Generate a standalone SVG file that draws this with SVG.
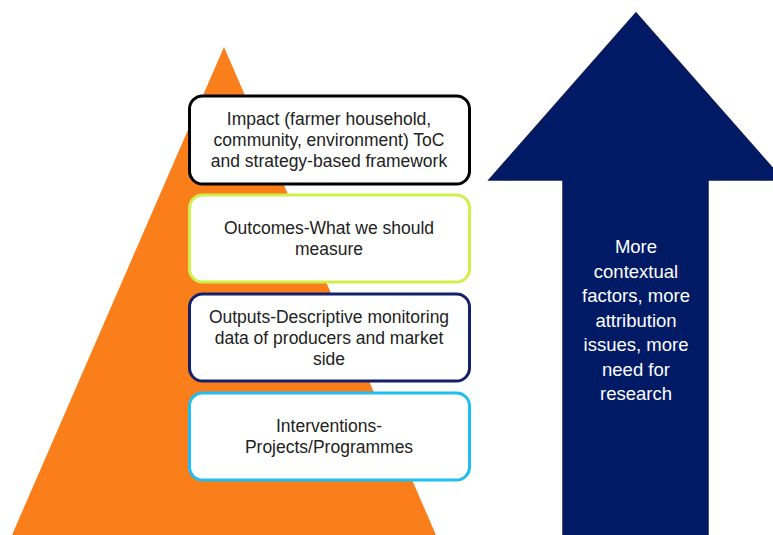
<svg xmlns="http://www.w3.org/2000/svg" width="773" height="535" viewBox="0 0 773 535">
<style>
.box{fill:#fff;stroke-width:3}
.t{font-family:"Liberation Sans",Arial,sans-serif;font-size:17.5px;fill:#222;text-anchor:middle}
.w{font-family:"Liberation Sans",Arial,sans-serif;font-size:18.5px;fill:#fff;text-anchor:middle}
</style>
<rect width="773" height="535" fill="#fff"/>
<g id="pyramid"><polygon points="224,47 12,535 436,535" fill="#FA7F1A"/></g>
<g id="arrow">
<polygon points="636,13 783,180 708,180 708,536 563,536 563,180 489,180" fill="#001A66" stroke="#0d1a55" stroke-width="1.5"/>
<text class="w"><tspan x="636" y="253">More</tspan><tspan x="636" y="277.5">contextual</tspan><tspan x="636" y="302">factors, more</tspan><tspan x="636" y="326.5">attribution</tspan><tspan x="636" y="351">issues, more</tspan><tspan x="636" y="375.5">need for</tspan><tspan x="636" y="400">research</tspan></text>
</g>
<g id="impact">
<rect class="box" x="189.5" y="96" width="280" height="88" rx="13" stroke="#000"/>
<text class="t"><tspan x="329" y="125">Impact (farmer household,</tspan><tspan x="329" y="146">community, environment) ToC</tspan><tspan x="329" y="167">and strategy-based framework</tspan></text>
</g>
<g id="outcomes">
<rect class="box" x="189.5" y="195" width="280" height="87" rx="13" stroke="#CFF04A"/>
<text class="t"><tspan x="329" y="234">Outcomes-What we should</tspan><tspan x="329" y="255">measure</tspan></text>
</g>
<g id="outputs">
<rect class="box" x="189.5" y="294" width="280" height="87" rx="13" stroke="#15206B"/>
<text class="t"><tspan x="329" y="323">Outputs-Descriptive monitoring</tspan><tspan x="329" y="344">data of producers and market</tspan><tspan x="329" y="365">side</tspan></text>
</g>
<g id="interventions">
<rect class="box" x="189.5" y="393" width="280" height="87" rx="13" stroke="#1EBDF2"/>
<text class="t"><tspan x="329" y="432">Interventions-</tspan><tspan x="329" y="453">Projects/Programmes</tspan></text>
</g>
<g id="connectors"/>
</svg>
